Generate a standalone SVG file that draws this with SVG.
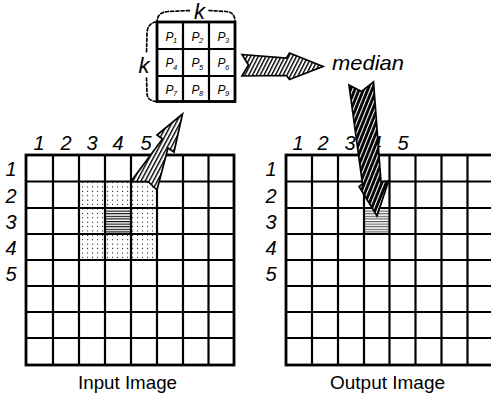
<svg xmlns="http://www.w3.org/2000/svg" width="491" height="396" viewBox="0 0 491 396">
  <style>
    .grid { fill: none; stroke: #000; stroke-width: 2.2; }
    .frame { fill: none; stroke: #000; stroke-width: 2.8; }
    .num { font-family: "Liberation Sans", Arial, sans-serif; font-style: italic; font-size: 20px; fill: #000; text-anchor: middle; }
    .cap { font-family: "Liberation Sans", Arial, sans-serif; font-size: 18.5px; fill: #000; text-anchor: middle; }
    .pl { font-family: "Liberation Sans", Arial, sans-serif; font-style: italic; font-size: 12px; fill: #000; }
    .ps { font-family: "Liberation Sans", Arial, sans-serif; font-style: italic; font-size: 7.5px; fill: #000; }
    .kl { font-family: "Liberation Sans", Arial, sans-serif; font-style: italic; font-size: 22px; fill: #000; text-anchor: middle; }
    .brace { fill: none; stroke: #000; stroke-width: 1.7; stroke-dasharray: 3 2.2; stroke-linecap: round; }
    .arrow { stroke: #000; stroke-width: 1.7; stroke-linejoin: miter; }
  </style>
  <defs>
    <pattern id="dots" patternUnits="userSpaceOnUse" width="5" height="4.4">
      <rect x="2" y="1.6" width="1.1" height="1.1" fill="#222"/>
    </pattern>
    <pattern id="hlines" patternUnits="userSpaceOnUse" width="8" height="2.6">
      <rect x="0" y="0" width="8" height="1.1" fill="#000"/>
    </pattern>
    <pattern id="hlinesGrey" patternUnits="userSpaceOnUse" width="8" height="2.6">
      <rect x="0" y="0" width="8" height="1.1" fill="#555"/>
    </pattern>
    <pattern id="hatchA" patternUnits="userSpaceOnUse" width="3.6" height="10" patternTransform="rotate(28)">
      <rect width="3.6" height="10" fill="#fff"/>
      <rect x="0" y="0" width="1.4" height="10" fill="#000"/>
    </pattern>
    <pattern id="hatchB" patternUnits="userSpaceOnUse" width="3.4" height="10" patternTransform="rotate(27)">
      <rect width="3.4" height="10" fill="#fff"/>
      <rect x="0" y="0" width="1.4" height="10" fill="#000"/>
    </pattern>
    <pattern id="hatchC" patternUnits="userSpaceOnUse" width="4" height="10" patternTransform="rotate(22)">
      <rect width="4" height="10" fill="#000"/>
      <rect x="0" y="0" width="1.1" height="10" fill="#fff"/>
    </pattern>
  </defs>

  <!-- input image grid -->
  <g id="input-image">
    <rect x="79" y="181.5" width="78" height="78.5" fill="url(#dots)"/>
    <rect x="105" y="208" width="26" height="26" fill="#fff"/>
    <rect x="105" y="209.5" width="26" height="23.5" fill="url(#hlines)"/>
    <path class="grid" d="M53 155V365M79 155V365M105 155V365M131 155V365M157 155V365M183 155V365M208.5 155V365
      M26 181.5H234M26 208H234M26 234H234M26 260H234M26 286H234M26 312H234M26 338H234"/>
    <rect class="frame" x="26" y="155" width="208" height="210"/>
    <g class="num">
      <text x="39" y="150">1</text>
      <text x="66" y="150">2</text>
      <text x="92" y="150">3</text>
      <text x="118" y="150">4</text>
      <text x="146" y="150">5</text>
      <text x="11" y="176">1</text>
      <text x="11" y="203">2</text>
      <text x="11" y="229">3</text>
      <text x="11" y="255">4</text>
      <text x="11" y="281">5</text>
    </g>
    <text class="cap" x="127.5" y="389" textLength="99" lengthAdjust="spacingAndGlyphs">Input Image</text>
  </g>

  <!-- output image grid -->
  <g id="output-image">
    <rect x="364" y="209.5" width="25.5" height="23.5" fill="url(#hlinesGrey)"/>
    <path class="grid" d="M312 155V365M338 155V365M364 155V365M389.5 155V365M415.5 155V365M441.5 155V365M467.5 155V365
      M286 181.5H493M286 208H493M286 234H493M286 260H493M286 286H493M286 312H493M286 338H493"/>
    <rect class="frame" x="286" y="155" width="208" height="210"/>
    <g class="num">
      <text x="298" y="150">1</text>
      <text x="323" y="150">2</text>
      <text x="350" y="150">3</text>
      <text x="376" y="150">4</text>
      <text x="403" y="150">5</text>
      <text x="271" y="176">1</text>
      <text x="271" y="203">2</text>
      <text x="271" y="229">3</text>
      <text x="271" y="255">4</text>
      <text x="271" y="281">5</text>
    </g>
    <text class="cap" x="387.5" y="389" textLength="115" lengthAdjust="spacingAndGlyphs">Output Image</text>
  </g>

  <!-- 3x3 neighbourhood window -->
  <g id="kernel">
    <path class="grid" d="M183 22V101.5M209 22V101.5M157 49H235M157 76H235"/>
    <rect class="frame" x="157" y="22" width="78" height="79.5"/>
    <g>
      <text class="pl" x="165.5" y="40.5">P</text><text class="ps" x="173" y="43">1</text>
      <text class="pl" x="191.5" y="40.5">P</text><text class="ps" x="199" y="43">2</text>
      <text class="pl" x="217.5" y="40.5">P</text><text class="ps" x="225" y="43">3</text>
      <text class="pl" x="165.5" y="67">P</text><text class="ps" x="173" y="69.5">4</text>
      <text class="pl" x="191.5" y="67">P</text><text class="ps" x="199" y="69.5">5</text>
      <text class="pl" x="217.5" y="67">P</text><text class="ps" x="225" y="69.5">6</text>
      <text class="pl" x="165.5" y="93.5">P</text><text class="ps" x="173" y="96">7</text>
      <text class="pl" x="191.5" y="93.5">P</text><text class="ps" x="199" y="96">8</text>
      <text class="pl" x="217.5" y="93.5">P</text><text class="ps" x="225" y="96">9</text>
    </g>
    <path class="brace" d="M157 23C157 15 161 12 168 11.5L190 10.5"/>
    <path class="brace" d="M209 10.5L226 11.5C232 12 235 15 235 22"/>
    <path class="brace" d="M156 22C150 23 147 27 147 34L146.5 53"/>
    <path class="brace" d="M146.5 78L147 93C147 98 150 101 156 101.5"/>
    <text class="kl" x="199.5" y="18.5">k</text>
    <text class="kl" x="144" y="72.5">k</text>
  </g>

  <!-- connectors -->
  <g id="connectors">
    <path class="arrow" fill="url(#hatchA)" d="M131 181.5L148 181.5L157 190L168 148L174 152L182.5 114L157 135L162.5 139Z"/>
    <path class="arrow" fill="url(#hatchB)" d="M242 54.5L286.5 58L289.5 53L323 66.5L289.5 79.5L286.5 75.5L242 76L248.5 65Z"/>
    <path class="arrow" fill="url(#hatchC)" d="M349 85L361.5 91.5L373.5 82L381 182L388.5 181L377 216L359 186.5L362.5 184Z"/>
  </g>

  <g id="median">
    <text x="332" y="70" font-family="Liberation Sans, Arial, sans-serif" font-style="italic" font-size="21" textLength="72" lengthAdjust="spacingAndGlyphs">median</text>
  </g>
</svg>
